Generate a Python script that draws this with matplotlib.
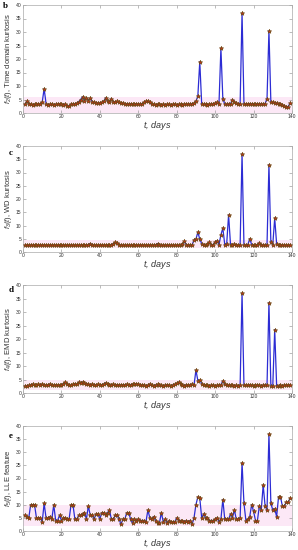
import numpy as np
import matplotlib.pyplot as plt

plt.rc('font', family=['Liberation Sans', 'DejaVu Sans'])
plt.rc('mathtext', fontset='custom', it='Liberation Sans:italic', rm='Liberation Sans')

days = np.arange(1, 140)

f2_time = [3.2, 4.3, 3.5, 3.2, 3.0, 3.2, 3.3, 3.2, 3.4, 4.0,
           9.0, 3.5, 3.1, 3.2, 3.3, 3.1, 3.2, 3.3, 3.4, 3.2,
           3.1, 3.3, 2.6, 2.7, 3.3, 3.2, 3.4, 3.6, 4.2, 5.0,
           6.0, 4.5, 5.7, 4.6, 5.5, 4.2, 3.9, 3.8, 3.6, 3.7,
           3.9, 4.3, 5.6, 4.4, 4.0, 5.3, 4.2, 4.1, 4.3, 3.9,
           3.7, 3.6, 3.5, 3.4, 3.5, 3.4, 3.3, 3.5, 3.4, 3.3,
           3.3, 3.5, 3.9, 4.3, 4.3, 3.9, 3.2, 3.2, 3.1, 3.2,
           3.2, 3.1, 3.2, 3.1, 3.2, 3.2, 3.1, 3.2, 3.2, 3.1,
           3.2, 3.2, 3.1, 3.2, 3.2, 3.3, 3.3, 3.4, 3.6, 4.3,
           6.3, 19.0, 3.3, 3.2, 3.2, 3.1, 3.2, 3.2, 3.3, 3.6,
           3.9, 3.4, 24.0, 5.3, 3.3, 3.2, 3.3, 3.4, 5.0, 4.2,
           3.6, 3.4, 3.5, 37.0, 3.4, 3.3, 3.4, 3.5, 3.4, 3.4,
           3.5, 3.4, 3.5, 3.3, 3.2, 3.5, 5.3, 30.4, 4.0, 3.9,
           3.8, 3.6, 3.5, 3.3, 3.0, 2.6, 2.3, 2.4, 3.6]

f3_wd = [2.5, 2.5, 2.5, 2.5, 2.5, 2.5, 2.5, 2.5, 2.5, 2.5,
         2.5, 2.5, 2.5, 2.5, 2.5, 2.5, 2.5, 2.5, 2.5, 2.5,
         2.5, 2.5, 2.5, 2.5, 2.5, 2.5, 2.5, 2.5, 2.5, 2.5,
         2.5, 2.5, 2.6, 2.8, 3.2, 2.7, 2.5, 2.5, 2.5, 2.5,
         2.5, 2.5, 2.5, 2.6, 2.6, 2.7, 3.2, 3.6, 3.5, 2.8,
         2.6, 2.5, 2.5, 2.5, 2.5, 2.5, 2.5, 2.5, 2.6, 2.5,
         2.5, 2.5, 2.5, 2.5, 2.5, 2.5, 2.5, 2.5, 2.7, 3.2,
         2.6, 2.5, 2.5, 2.5, 2.5, 2.5, 2.5, 2.5, 2.5, 2.5,
         2.5, 2.5, 3.0, 4.0, 2.8, 2.5, 2.5, 2.6, 4.6, 4.8,
         7.5, 4.8, 3.2, 2.7, 2.6, 3.0, 3.6, 2.8, 2.8, 3.8,
         4.2, 2.7, 6.5, 9.0, 2.8, 3.0, 14.0, 2.8, 2.6, 3.0,
         2.7, 2.5, 2.6, 37.0, 2.6, 2.5, 2.7, 5.0, 2.8, 2.6,
         2.6, 2.8, 3.5, 2.7, 2.6, 2.5, 2.8, 33.0, 3.6, 2.8,
         12.8, 3.0, 2.6, 2.5, 2.5, 2.5, 2.5, 2.5, 2.5]

f4_emd = [2.6, 2.7, 2.8, 3.0, 3.3, 2.9, 2.8, 3.2, 3.0, 3.3,
          3.0, 2.8, 3.1, 3.3, 2.9, 2.8, 3.1, 2.9, 2.8, 3.0,
          3.5, 4.0, 3.5, 3.0, 2.8, 3.2, 3.5, 3.3, 4.0, 3.8,
          4.1, 3.6, 3.5, 3.2, 3.0, 3.3, 3.1, 3.0, 3.2, 3.0,
          3.1, 3.3, 3.8, 3.4, 3.1, 3.0, 3.2, 2.9, 3.1, 3.0,
          2.9, 3.1, 3.0, 3.2, 3.0, 3.1, 3.3, 3.2, 3.5, 3.3,
          2.9, 2.8, 3.0, 2.7, 2.9, 3.3, 2.8, 2.7, 3.0, 3.2,
          2.8, 2.9, 2.6, 2.9, 3.1, 2.8, 2.7, 3.0, 3.2, 3.6,
          4.0, 3.5, 3.0, 2.7, 3.1, 2.8, 2.9, 3.3, 2.8, 8.5,
          4.6, 4.8, 3.5, 3.0, 2.8, 2.9, 2.7, 2.8, 2.9, 2.7,
          2.8, 2.9, 3.0, 4.5, 3.2, 2.9, 2.8, 2.9, 2.8, 2.7,
          2.8, 2.7, 2.8, 37.0, 2.8, 2.9, 2.8, 3.0, 2.8, 2.7,
          2.8, 2.9, 2.8, 2.7, 2.9, 2.8, 2.8, 33.5, 2.6, 2.6,
          23.5, 2.7, 2.6, 2.8, 2.7, 2.9, 2.8, 2.9, 3.0]

f5_lle = [6.0, 5.5, 5.0, 10.0, 10.0, 10.0, 5.0, 5.0, 5.0, 3.5,
          10.5, 5.0, 5.0, 5.5, 4.5, 10.0, 4.0, 4.0, 6.0, 4.0,
          5.0, 5.0, 4.5, 4.5, 10.0, 10.0, 4.5, 4.5, 6.0, 6.0,
          6.5, 7.0, 4.5, 9.5, 6.0, 6.0, 4.5, 6.5, 6.5, 4.5,
          7.0, 7.0, 6.0, 7.0, 8.0, 4.5, 4.5, 6.0, 6.0, 4.5,
          2.5, 4.5, 4.5, 7.0, 7.0, 4.5, 3.0, 4.5, 4.0, 4.5,
          4.0, 4.0, 4.0, 3.5, 8.0, 5.0, 4.5, 5.5, 4.0, 3.0,
          3.0, 7.0, 3.5, 4.5, 3.0, 4.0, 3.5, 3.5, 3.5, 5.0,
          4.0, 4.0, 4.0, 3.5, 4.0, 3.5, 4.0, 2.5, 5.0, 10.0,
          13.0, 12.5, 5.0, 6.5, 5.0, 5.0, 4.0, 4.0, 4.0, 4.5,
          5.0, 3.5, 4.5, 12.0, 4.5, 4.5, 4.5, 6.5, 5.0, 8.0,
          4.5, 4.5, 5.0, 26.0, 10.5, 4.0, 4.5, 5.5, 10.0, 7.5,
          4.0, 4.0, 9.5, 8.0, 17.5, 9.5, 8.0, 37.0, 10.5, 8.0,
          8.5, 5.5, 13.0, 13.0, 9.5, 9.5, 11.0, 11.0, 12.5]

series = [f2_time, f3_wd, f4_emd, f5_lle]
ylabels = [r'$f_2(t)$, Time domain kurtosis', r'$f_3(t)$, WD kurtosis',
           r'$f_4(t)$, EMD kurtosis', r'$f_5(t)$, LLE feature']
letters = ['b', 'c', 'd', 'e']
bands = [(0, 6), (1.5, 4.5), (1, 5), (2, 10)]

# axes boxes in pixels (top, bottom) of a 298x550 figure
boxes = [(5, 113), (146, 252), (285, 393), (426, 531)]
letter_pos = [(5, 6), (11, 153), (11, 290), (11, 436)]

fig = plt.figure(figsize=(2.98, 5.5), dpi=100)
for vals, ylab, let, band, (top, bot), (lx, ly) in zip(series, ylabels, letters, bands, boxes, letter_pos):
    ax = fig.add_axes([23 / 298, 1 - bot / 550, 269 / 298, (bot - top) / 550])
    ax.axhspan(band[0], band[1], color='#fce8f6', zorder=0, lw=0)
    ax.plot(days, vals, color='#2c2cd4', lw=0.9, zorder=2)
    ax.plot(days, vals, ls='none', marker='*', ms=3.2, mfc='#d42a1a', mec='#6e4a14',
            mew=0.5, zorder=3)
    ax.set_xlim(0, 140)
    ax.set_ylim(0, 40)
    ax.set_xticks(np.arange(0, 141, 20))
    ax.set_yticks(np.arange(0, 41, 5))
    ax.tick_params(direction='in', top=True, right=True, labelsize=3.6, length=2,
                   width=0.4, color='#888888', pad=1, labelcolor='#333333')
    for s in ax.spines.values():
        s.set_color('#aaaaaa')
        s.set_linewidth(0.5)
    ax.set_xlabel(r'$t$, days', fontsize=6.5, style='italic', labelpad=0, color='#333333')
    ax.set_ylabel(ylab, fontsize=5.5, labelpad=1.5, color='#333333')
    fig.text(lx / 298, 1 - ly / 550, let, fontsize=6.5, fontweight='bold',
             family='Liberation Serif', ha='center', va='center')

fig.savefig('out.png', dpi=100)
